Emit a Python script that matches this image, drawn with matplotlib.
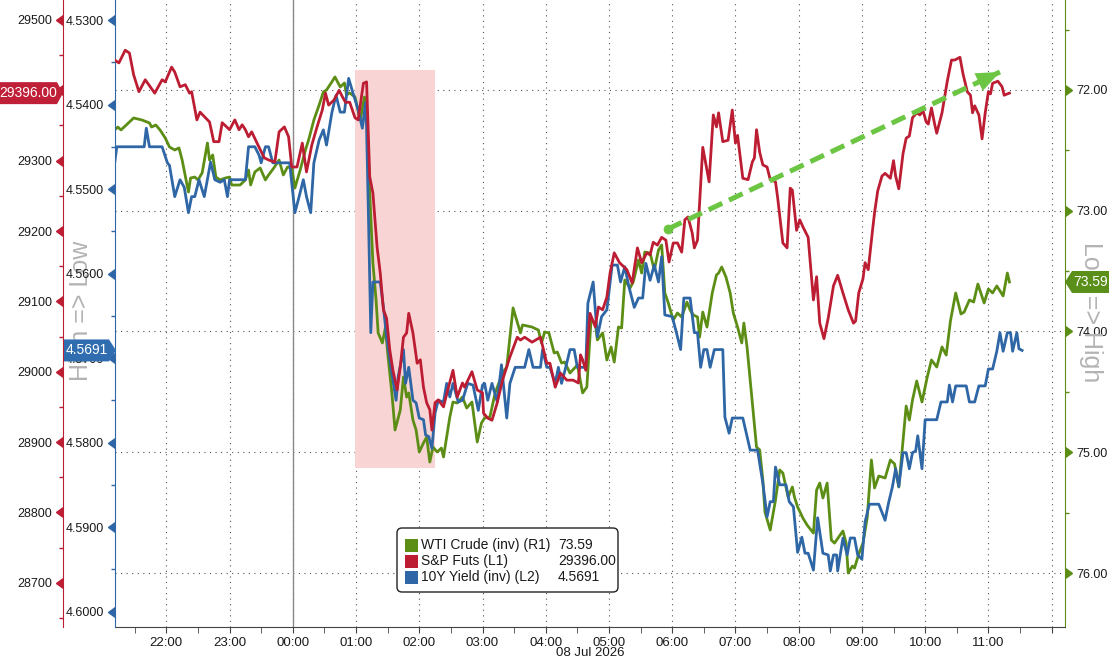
import numpy as np
import matplotlib
matplotlib.use("Agg")
import matplotlib.pyplot as plt
from matplotlib import transforms
from matplotlib import markers as mmarkers
from matplotlib.patches import Polygon, Rectangle, FancyBboxPatch
from matplotlib.ticker import MultipleLocator

plt.rcParams['font.family'] = ['Liberation Sans', 'DejaVu Sans']

# time axis = minutes after 21:00 on 07 Jul 2026
sp_t = [11,15,21,25,29,34,40,49,56,59,65,68,73,78,82,84,89,92,101,105,
        110,113,120,125,129,132,135,138,141,148,153,157,163,167,172,176,179,184,189,193,
        198,203,208,211,214,219,224,227,230,234,239,242,247,250,253,256,260,263,266,269,
        272,275,279,282,285,288,290,294,298,301,304,307,310,312,315,318,323,327,332,336,
        341,343,350,355,360,361,365,369,374,379,386,393,396,400,407,415,421,424,429,434,
        440,446,451,453,455,458,462,467,470,474,478,481,485,490,497,502,507,511,516,519,
        522,526,530,534,537,541,545,549,552,555,559,561,564,569,575,579,582,584,588,593,
        597,600,602,607,612,616,618,620,623,626,630,633,638,640,645,649,652,654,658,661,
        664,669,674,677,680,684,688,693,697,702,707,712,714,717,721,723,726,730,732,735,
        739,742,747,750,752,755,759,762,765,768,772,775,778,781,783,786,789,791,796,801,
        805,808,813,816,820,823,825,827,831,834,837,840,842,844,849,853,855,858,860]
sp_v = [29443,29439,29457,29453,29422,29398,29415,29396,29415,29412,
        29433,29426,29405,29408,29396,29398,29358,29369,29355,29327,
        29327,29354,29344,29358,29344,29351,29344,29334,29341,29319,
        29304,29301,29298,29341,29348,29334,29291,29291,29325,29284,
        29322,29348,29372,29396,29379,29386,29400,29391,29383,29383,
        29361,29358,29410,29412,29277,29254,29177,29140,29088,29076,
        29031,29002,28974,29007,29049,29055,29083,29055,29012,29017,
        28978,28956,28946,28917,28956,28960,28950,28974,29002,28964,
        28984,28978,29000,28974,28970,28941,28934,28931,28956,28988,
        29021,29049,29045,29049,29042,29049,29012,29012,28978,28998,
        28988,28988,28984,29024,29017,29002,29083,29064,29092,29088,
        29106,29140,29169,29155,29145,29126,29176,29155,29169,29166,
        29184,29180,29191,29187,29156,29183,29183,29170,29216,29220,
        29197,29176,29187,29319,29270,29365,29348,29368,29327,29329,
        29372,29325,29336,29275,29273,29298,29304,29344,29312,29294,
        29291,29273,29270,29248,29183,29176,29261,29258,29201,29216,
        29206,29191,29102,29135,29069,29047,29076,29122,29137,29112,
        29088,29069,29072,29112,29132,29155,29145,29200,29226,29257,
        29278,29282,29275,29300,29278,29260,29310,29332,29335,29361,
        29368,29365,29371,29355,29352,29375,29352,29339,29368,29413,
        29443,29443,29447,29423,29398,29393,29368,29378,29365,29331,
        29368,29398,29395,29410,29413,29405,29393,29395,29396]

yld_t = [11,13,39,41,44,56,61,63,68,73,77,81,84,87,91,96,102,106,111,115,
         118,120,135,138,144,148,150,154,157,161,177,182,186,190,193,197,200,205,209,212,
         217,221,225,229,233,237,242,246,249,250,252,254,256,263,266,269,274,278,280,285,
         287,290,294,297,300,304,306,309,312,315,318,323,326,329,332,337,341,346,351,356,
         360,362,365,369,374,378,383,386,391,400,404,408,415,417,421,424,429,432,435,439,
         443,447,450,458,460,465,469,473,478,483,488,491,495,499,504,508,512,515,519,523,
         527,530,533,540,544,548,551,557,561,564,567,570,573,576,580,588,590,594,597,607,
         614,621,626,630,633,636,638,642,648,651,655,659,663,666,669,674,678,683,688,690,
         693,696,697,702,706,709,713,716,720,723,727,736,742,745,749,752,755,759,762,765,
         768,771,773,777,780,791,795,801,803,806,809,819,822,827,831,837,840,844,848,851,
         854,858,861,863,867,869,872]
yld_v = [4.5469,4.5450,4.5450,4.5428,4.5450,4.5450,4.5469,4.5472,4.5509,4.5489,
         4.5498,4.5528,4.5509,4.5509,4.5489,4.5509,4.5468,4.5489,4.5492,4.5489,
         4.5509,4.5489,4.5489,4.5450,4.5450,4.5460,4.5469,4.5450,4.5450,4.5469,
         4.5469,4.5528,4.5509,4.5489,4.5509,4.5528,4.5469,4.5442,4.5430,4.5448,
         4.5410,4.5389,4.5409,4.5409,4.5369,4.5386,4.5406,4.5428,4.5398,4.5427,
         4.5545,4.5670,4.5610,4.5610,4.5640,4.5675,4.5718,4.5750,4.5722,4.5690,
         4.5730,4.5711,4.5750,4.5753,4.5771,4.5773,4.5791,4.5793,4.5807,4.5765,
         4.5750,4.5752,4.5730,4.5746,4.5730,4.5752,4.5750,4.5730,4.5732,4.5762,
         4.5732,4.5730,4.5750,4.5730,4.5752,4.5708,4.5771,4.5730,4.5711,4.5711,
         4.5690,4.5711,4.5711,4.5690,4.5711,4.5711,4.5730,4.5711,4.5730,4.5711,
         4.5690,4.5690,4.5711,4.5711,4.5635,4.5610,4.5675,4.5651,4.5643,4.5590,
         4.5590,4.5610,4.5592,4.5616,4.5640,4.5629,4.5629,4.5588,4.5608,4.5590,
         4.5610,4.5580,4.5649,4.5651,4.5670,4.5690,4.5629,4.5629,4.5670,4.5670,
         4.5711,4.5690,4.5690,4.5711,4.5690,4.5690,4.5770,4.5789,4.5771,4.5771,
         4.5809,4.5809,4.5848,4.5888,4.5870,4.5870,4.5829,4.5850,4.5850,4.5870,
         4.5876,4.5930,4.5912,4.5931,4.5931,4.5951,4.5889,4.5931,4.5933,4.5952,
         4.5933,4.5933,4.5952,4.5913,4.5933,4.5913,4.5913,4.5933,4.5938,4.5894,
         4.5873,4.5873,4.5892,4.5873,4.5852,4.5831,4.5852,4.5812,4.5812,4.5831,
         4.5812,4.5810,4.5792,4.5831,4.5773,4.5773,4.5752,4.5752,4.5732,4.5752,
         4.5733,4.5733,4.5752,4.5752,4.5733,4.5733,4.5713,4.5713,4.5692,4.5670,
         4.5692,4.5670,4.5670,4.5692,4.5670,4.5689,4.5691]

wti_t = [11,14,17,29,37,44,46,50,54,59,63,68,72,75,81,83,87,90,94,99,
         101,104,107,111,116,120,122,130,135,138,140,144,149,154,157,162,167,171,175,179,
         182,187,192,195,200,205,209,212,217,220,225,229,231,234,239,244,248,250,253,256,
         259,261,265,268,270,274,277,282,285,288,290,294,297,300,304,307,310,313,317,321,
         323,329,332,336,341,345,350,355,359,362,367,372,379,383,389,396,398,407,413,416,
         419,423,428,431,435,438,443,450,455,459,463,467,469,474,478,482,485,489,492,495,
         500,503,508,511,514,519,523,527,530,533,536,541,545,549,554,557,560,564,566,569,
         573,578,582,584,587,591,595,598,602,606,608,611,614,617,620,623,626,628,633,638,
         642,645,650,654,656,659,664,668,674,677,680,683,687,691,694,702,705,707,711,713,
         717,721,725,729,732,736,742,747,751,755,759,762,765,768,772,777,782,786,791,796,
         800,804,809,814,817,822,826,830,836,840,844,848,854,858,860]
wti_v = [72.331,72.307,72.331,72.232,72.249,72.273,72.307,72.290,72.331,72.398,
         72.472,72.497,72.480,72.580,72.845,72.729,72.721,72.745,72.687,72.439,
         72.580,72.538,72.721,72.745,72.729,72.721,72.787,72.787,72.745,72.663,
         72.787,72.679,72.646,72.745,72.704,72.646,72.580,72.704,72.638,72.646,
         72.812,72.663,72.497,72.414,72.249,72.124,72.017,72.000,71.934,71.892,
         71.975,71.942,72.041,72.025,72.058,72.249,72.058,72.141,72.853,73.433,
         73.739,74.012,74.095,73.963,74.178,74.509,74.816,74.650,74.377,74.543,
         74.509,74.733,74.816,74.998,74.923,74.874,75.081,74.957,74.998,74.965,
         75.039,74.708,74.584,74.592,74.543,74.634,74.584,74.915,74.758,74.716,
         74.708,74.509,74.344,74.294,73.805,74.012,73.946,73.963,73.988,74.095,
         74.004,74.012,74.178,74.170,74.261,74.253,74.344,74.277,74.509,74.460,
         73.905,73.930,74.070,74.012,74.236,74.128,74.253,73.963,73.971,73.574,
         73.640,73.590,73.408,73.516,73.342,73.350,73.491,73.325,73.284,73.681,
         73.756,73.905,73.847,73.880,73.756,73.822,73.863,73.880,74.046,73.839,
         73.963,73.681,73.532,73.516,73.466,73.549,73.681,73.847,73.963,74.095,
         73.930,74.128,74.402,74.675,74.957,74.981,75.230,75.495,75.644,75.396,
         75.147,75.172,75.371,75.288,75.371,75.453,75.545,75.603,75.669,75.313,
         75.255,75.379,75.255,75.727,75.752,75.652,75.752,76.000,75.942,75.959,
         75.843,75.752,75.545,75.064,75.296,75.197,75.213,75.064,75.097,75.288,
         74.907,74.617,74.733,74.567,74.410,74.584,74.377,74.236,74.294,74.128,
         74.195,73.913,73.681,73.855,73.839,73.739,73.756,73.607,73.764,73.648,
         73.681,73.623,73.706,73.516,73.59]

x_ticks = [60,120,180,240,300,360,420,480,540,600,660,720,780,840,900]
x_labels = ['22:00','23:00','00:00','01:00','02:00','03:00','04:00','05:00',
            '06:00','07:00','08:00','09:00','10:00','11:00','']
sp_ticks = [28700,28800,28900,29000,29100,29200,29300,29400,29500]
sp_labels = ['28700','28800','28900','29000','29100','29200','29300','','29500']  # 29400 sits under the tag
yld_ticks = [4.53,4.54,4.55,4.56,4.57,4.58,4.59,4.60]
wti_ticks = [72,73,74,75,76]

series_names = ['WTI Crude (inv) (R1)', 'S&P Futs (L1)', '10Y Yield (inv) (L2)']
last_labels = ['73.59', '29396.00', '4.5691']
sp_last, yld_last, wti_last = 29396.00, 4.5691, 73.59

shade_t = (239, 315)          # shaded box, minutes
shade_wti = (71.834, 75.130)  # shaded box, WTI units
trend_t = (536, 851)
trend_wti = (73.151, 71.851)

RED = '#bc1d33'
BLUE = '#2e66a6'
GREEN = '#5c8e16'
ARROW = '#6cc644'
SIDE = '#b3b3b3'

W, H = 1109, 659
fig = plt.figure(figsize=(W / 100, H / 100), dpi=100)
ax = fig.add_axes([115 / W, 32 / H, 950 / W, 627 / H])   # WTI (host, right)
ax_y = ax.twinx()                                        # 10Y yield (left)
ax_s = ax.twinx()                                        # S&P (far left)

# background bits on the host
ax.add_patch(Rectangle((shade_t[0], shade_wti[0]), shade_t[1] - shade_t[0],
                       shade_wti[1] - shade_wti[0], fc='#f9d4d4', ec='none', zorder=0.6))
ax.axvline(180, color='#8a8a8a', lw=1.0, zorder=0.7)
ax.grid(True, axis='both', which='major', color='#555555', ls=(0, (1, 4)), lw=0.8)
ax.set_axisbelow(True)

ax.plot(wti_t, wti_v, color=GREEN, lw=2.0, zorder=2)
ax_y.plot(yld_t, yld_v, color=BLUE, lw=2.0, zorder=2)
ax_s.plot(sp_t, sp_v, color=RED, lw=2.0, zorder=2)

# trend arrow (WTI coords, drawn on top)
ax_s.plot(trend_t, trend_wti, color=ARROW, lw=3.6, ls=(0, (3, 1.5)),
          transform=ax.transData, zorder=6)
ax_s.plot(trend_t[0], trend_wti[0], 'o', color=ARROW, ms=6, transform=ax.transData, zorder=6)
ax_s.annotate('', xy=(trend_t[1], trend_wti[1]), xytext=(trend_t[0], trend_wti[0]),
              xycoords=ax.transData, textcoords=ax.transData,
              arrowprops=dict(arrowstyle='-|>,head_length=1.7,head_width=0.7', color=ARROW,
                              lw=0, mutation_scale=10, shrinkA=0, shrinkB=0), zorder=7)

# spines
for s in ['top', 'left']:
    ax.spines[s].set_visible(False)
ax.spines['right'].set_color(GREEN)
ax.spines['bottom'].set_color('#444444')
for a, c in [(ax_y, BLUE), (ax_s, RED)]:
    for s in ['top', 'right', 'bottom']:
        a.spines[s].set_visible(False)
    a.spines['left'].set_visible(True)
    a.spines['left'].set_color(c)
    a.yaxis.tick_left()
ax_s.spines['left'].set_position(('axes', -52 / 950))
ax.yaxis.tick_right()

# x axis
ax.set_xticks(x_ticks)
ax.set_xticklabels(x_labels)
ax.xaxis.set_minor_locator(MultipleLocator(30))
ax.tick_params(axis='x', which='both', direction='out', length=4, color='#444444',
               labelsize=9.5, pad=3, labelcolor='#1a1a1a')
tr_date = transforms.blended_transform_factory(ax.transData, ax.transAxes)
ax.text(462, -0.041, '08 Jul 2026', transform=tr_date, ha='center', va='center',
        fontsize=9.5, color='#1a1a1a')

# y axes
ax.set_yticks(wti_ticks)
ax.yaxis.set_major_formatter('{x:.2f}')
ax.yaxis.set_minor_locator(MultipleLocator(0.5))
ax_y.set_yticks(yld_ticks)
ax_y.yaxis.set_major_formatter('{x:.4f}')
ax_y.yaxis.set_minor_locator(MultipleLocator(0.005))
ax_s.set_yticks(sp_ticks)
ax_s.set_yticklabels(sp_labels)
ax_s.yaxis.set_minor_locator(MultipleLocator(50))
for a, c in [(ax, GREEN), (ax_y, BLUE), (ax_s, RED)]:
    a.tick_params(axis='y', which='major', length=0, pad=8, labelsize=9, labelcolor='#1a1a1a')
    a.tick_params(axis='y', which='minor', length=3, width=1, color=c)


def carets(a, xpos, ticks, color, marker):
    tr = transforms.blended_transform_factory(a.transAxes, a.transData)
    a.plot([xpos] * len(ticks), ticks, ls='none', marker=marker, ms=7, color=color,
           transform=tr, clip_on=False, zorder=5)


carets(ax_s, -52 / 950, sp_ticks, RED, mmarkers.CARETLEFTBASE)
carets(ax_y, 0, yld_ticks, BLUE, mmarkers.CARETLEFTBASE)
carets(ax, 1, wti_ticks, GREEN, mmarkers.CARETRIGHTBASE)

ax.set_xlim(11.3, 912.7)
ax.set_ylim(76.447, 71.255)
ax_y.set_ylim(4.60183, 4.52763)
ax_s.set_ylim(28637.1, 29528.4)

# side captions, under the tick labels
ax.text(81 / W, 1 - 311 / H, 'High => Low', transform=fig.transFigure, rotation=90,
        ha='center', va='center', fontsize=18, color=SIDE, clip_on=False, zorder=1)
ax.text(1091 / W, 1 - 312 / H, 'Low => High', transform=fig.transFigure, rotation=270,
        ha='center', va='center', fontsize=18, color=SIDE, clip_on=False, zorder=1)

ident = transforms.IdentityTransform()


def tag(a, value, label, color, x0, x1, tip):
    y = a.transData.transform((0, value))[1]
    h = 11
    if tip > x1:
        verts = [(x0, y - h), (x1, y - h), (tip, y), (x1, y + h), (x0, y + h)]
    else:
        verts = [(x1, y - h), (x0, y - h), (tip, y), (x0, y + h), (x1, y + h)]
    fig.add_artist(Polygon(verts, closed=True, transform=ident, fc=color, ec='none', zorder=4))
    fig.text((x0 + x1) / 2 / W, y / H, label, color='white', ha='center', va='center',
             fontsize=10, zorder=5)


tag(ax_s, sp_last, last_labels[1], '#c01f38', 0, 57, 63)
tag(ax_y, yld_last, last_labels[2], '#2f6db0', 64, 109, 116)
tag(ax, wti_last, last_labels[0], '#5a8f1a', 1072, 1109, 1065)

# legend box
fig.add_artist(FancyBboxPatch((397, 67), 221, 64, boxstyle='round,pad=0,rounding_size=5',
                              transform=ident, fc='white', ec='#222222', lw=1, zorder=4))
for yc, name, val, c in zip([114, 98, 82], series_names, last_labels, [GREEN, RED, BLUE]):
    fig.add_artist(Rectangle((405, yc - 6.5), 13, 13, transform=ident, fc=c, ec='none', zorder=5))
    fig.text(421 / W, yc / H, name, ha='left', va='center', fontsize=10, color='#1a1a1a', zorder=5)
    fig.text(558 / W, yc / H, val, ha='left', va='center', fontsize=10, color='#1a1a1a', zorder=5)

fig.savefig('out.png', dpi=100)
